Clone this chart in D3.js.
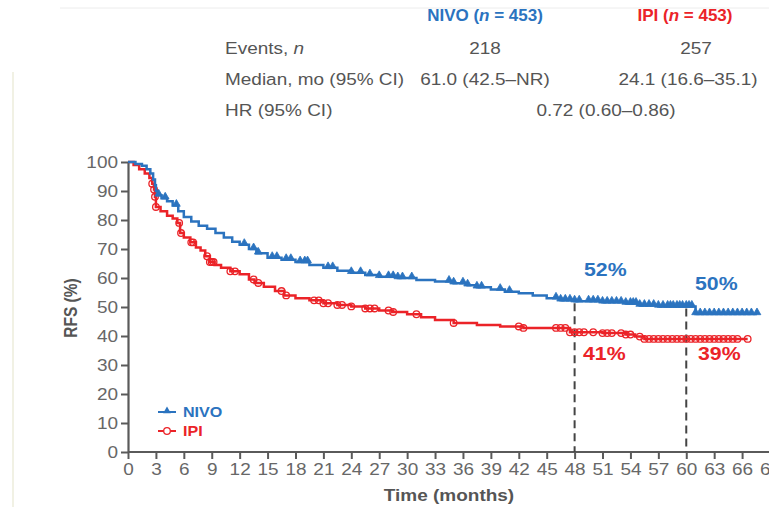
<!DOCTYPE html>
<html lang="en">
<head>
<meta charset="utf-8">
<title>RFS NIVO vs IPI</title>
<script src="https://d3js.org/d3.v7.min.js"></script>
<style>
  body { margin: 0; background: #fff; }
  svg text { font-family: "Liberation Sans", Arial, sans-serif; }
</style>
</head>
<body>
<div id="chart"></div>
<script>
// ---- data ----
var nivoTime = [0, 0.8, 1.5, 2.0, 2.4, 2.7, 2.9, 3.0, 3.2, 3.6, 4.2, 4.8, 5.4, 6.0, 6.8, 7.6, 8.5, 9.4, 10.3, 11.2, 12.0, 13.0, 13.8, 15.0, 16.5, 18.0, 19.5, 21.0, 22.5, 24.0, 25.5, 27.0, 29.0, 31.0, 33.0, 35.0, 36.5, 37.5, 39.0, 40.5, 42.0, 43.5, 45.0, 46.5, 48.0, 51.0, 53.5, 55.0, 57.0, 61.0, 67.6];
var nivoSurv = [100, 99.3, 98.7, 97.5, 96, 94, 92, 90, 88.5, 87.5, 86.5, 85, 83, 81, 79.5, 78, 77, 75.5, 74, 72.5, 71.5, 70, 68.5, 67, 66.3, 65.5, 64.5, 63.5, 62.5, 61.8, 61, 60.4, 60, 59.3, 58.8, 58.2, 57.5, 56.8, 56, 55.3, 54.7, 54, 53, 52.3, 52, 51.6, 51.2, 50.5, 50.2, 47.6, 47.6];

var ipiTime = [0, 0.6, 1.2, 1.8, 2.3, 2.6, 2.8, 2.9, 3.0, 3.5, 4.2, 4.8, 5.3, 5.6, 6.0, 6.7, 7.3, 7.8, 8.3, 8.8, 9.3, 10.0, 11.0, 12.0, 13.0, 13.6, 14.6, 15.8, 16.8, 18.0, 19.5, 21.0, 22.5, 24.0, 25.5, 27.0, 28.5, 30.0, 31.5, 33.0, 35.0, 37.5, 40.0, 42.5, 47.5, 51.0, 53.5, 54.5, 55.5, 66.6];
var ipiSurv = [100, 99, 97.5, 96, 94.5, 92.5, 90.5, 88, 84.5, 83, 81.5, 80.5, 79, 75.5, 74, 72.3, 70.5, 69.5, 67.5, 65.5, 64.5, 63.5, 62.3, 61.3, 59.5, 58.3, 57, 55.5, 54, 53, 52.3, 51.3, 50.7, 50.2, 49.5, 48.8, 48.3, 47.5, 46.5, 45.5, 44.5, 43.8, 43.3, 42.8, 41.3, 41, 40.5, 39.8, 39, 39];

var nivoCensor = [3.3, 4, 5.2, 12.5, 13.5, 14, 15.5, 16, 17, 17.5, 18.5, 19, 19.3, 21.5, 22, 24, 25, 26, 27, 28, 28.5, 29, 29.5, 30.5, 34.5, 35, 36, 36.5, 37.5, 38, 40, 41, 46, 46.5, 47, 47.5, 48, 48.5, 49.5, 50, 50.5, 51, 51.5, 52, 52.5, 53, 53.5, 54, 54.3, 54.6, 55, 55.5, 56, 56.5, 57, 57.5, 58, 58.3, 58.6, 59, 59.3, 59.6, 60, 60.3, 60.6, 61, 61.5, 62, 62.5, 63, 63.5, 64, 64.5, 65, 65.5, 66, 66.5, 67, 67.6];
var ipiCensor = [2.6, 2.8, 2.9, 3.0, 5.5, 5.7, 6.8, 7, 8.5, 8.8, 9, 9.2, 11, 11.5, 13.5, 14, 16.5, 17, 20, 20.5, 21, 21.5, 22.5, 23, 24, 25.5, 26, 26.5, 28, 28.5, 31, 35, 42, 42.5, 46, 46.5, 47, 47.5, 48, 48.5, 49, 50, 51, 51.5, 52, 53, 53.5, 54, 55, 55.5, 56, 56.5, 57, 57.5, 58, 58.5, 59, 59.5, 60, 60.5, 61, 61.5, 62, 62.5, 63, 63.5, 64, 64.5, 65, 65.5, 66.6];

var landmarkTimes = [48, 60];
var nivoLandmark = ["52%", "50%"];
var ipiLandmark = ["41%", "39%"];

var rowLabels = ["Events, n", "Median, mo (95% CI)", "HR (95% CI)"];
var nivoCol = ["218", "61.0 (42.5–NR)"];
var ipiCol = ["257", "24.1 (16.6–35.1)"];
var hrText = "0.72 (0.60–0.86)";

var xTicks = d3.range(0, 70, 3);
var yTicks = d3.range(0, 101, 10);

// ---- layout ----
var w = 769, h = 507;
var SX = 1.15;   // source picture is a bit stretched sideways
var blue = "#2b73bf", red = "#eb2328", grey = "#5a5a5a", txt = "#555";

var svg = d3.select("#chart").append("svg")
  .attr("width", w).attr("height", h);

// stretched text helper
function stext(px, py, str, size, color, anchor, weight) {
  return svg.append("text")
    .attr("transform", "translate(" + px + "," + py + ") scale(" + SX + ",1)")
    .attr("text-anchor", anchor || "start")
    .attr("font-size", size).attr("font-weight", weight || "normal")
    .attr("fill", color).text(str);
}

// faint scan edges
svg.append("line").attr("x1", 60).attr("x2", w).attr("y1", 8).attr("y2", 8)
  .attr("stroke", "#ececec").attr("stroke-width", 1);
svg.append("line").attr("x1", 13).attr("x2", 13).attr("y1", 72).attr("y2", h)
  .attr("stroke", "#f1f1e4").attr("stroke-width", 2);

// ---- table ----
var hdr = svg.append("text").attr("y", 21).attr("font-size", 17).attr("font-weight", "bold")
  .attr("fill", blue).attr("x", 485).attr("text-anchor", "middle");
hdr.append("tspan").text("NIVO (");
hdr.append("tspan").attr("font-style", "italic").text("n");
hdr.append("tspan").text(" = 453)");
var hdr2 = svg.append("text").attr("y", 21).attr("font-size", 17).attr("font-weight", "bold")
  .attr("fill", red).attr("x", 685).attr("text-anchor", "middle");
hdr2.append("tspan").text("IPI (");
hdr2.append("tspan").attr("font-style", "italic").text("n");
hdr2.append("tspan").text(" = 453)");

var rowY = [54, 85, 116];
var fs = 16.5;
rowLabels.forEach(function(lab, i) {
  var t = stext(225, rowY[i], i == 0 ? null : lab, fs, txt);
  if (i == 0) {
    t.append("tspan").text("Events, ");
    t.append("tspan").attr("font-style", "italic").text("n");
  }
});
var nivoX = [485, 485], ipiX = [696, 688];
nivoCol.forEach(function(v, i) { stext(nivoX[i], rowY[i], v, fs, txt, "middle"); });
ipiCol.forEach(function(v, i) { stext(ipiX[i], rowY[i], v, fs, txt, "middle"); });
stext(606, rowY[2], hrText, fs, txt, "middle");

// ---- plot ----
var x = d3.scaleLinear().domain([0, 69]).range([128, 770]);
var y = d3.scaleLinear().domain([0, 100]).range([452, 162]);

var xAxis = svg.append("g").attr("transform", "translate(0,452)")
  .call(d3.axisBottom(x).tickValues(xTicks).tickSize(7).tickSizeOuter(0).tickPadding(4));
var yAxis = svg.append("g").attr("transform", "translate(128,0)")
  .call(d3.axisLeft(y).tickValues(yTicks).tickSize(7).tickSizeOuter(0).tickPadding(1.7));

[xAxis, yAxis].forEach(function(a) {
  a.select(".domain").attr("stroke", grey).attr("stroke-width", 2.2);
  a.selectAll(".tick line").attr("stroke", grey).attr("stroke-width", 2);
  a.selectAll(".tick text").attr("fill", "#676767").attr("font-size", 16.5)
    .attr("font-family", "'Liberation Sans', Arial, sans-serif")
    .attr("transform", "scale(" + SX + ",1)");
});
xAxis.select(".domain").attr("d", "M128,0H" + w);

svg.append("text").attr("transform", "translate(77,308) rotate(-90) scale(1," + SX + ")")
  .attr("text-anchor", "middle").attr("font-size", 15.5).attr("font-weight", "bold")
  .attr("fill", txt).text("RFS (%)");
stext(449, 501, "Time (months)", 16.5, txt, "middle", "bold");

// KM step function lookup
function survAt(times, surv, t) {
  var i = d3.bisectRight(times, t) - 1;
  return surv[Math.max(0, i)];
}

// dashed landmark lines
landmarkTimes.forEach(function(t) {
  svg.append("line").attr("x1", x(t)).attr("x2", x(t))
    .attr("y1", y(survAt(nivoTime, nivoSurv, t)) + 2).attr("y2", 452)
    .attr("stroke", "#444").attr("stroke-width", 2).attr("stroke-dasharray", "8,5");
});

var line = d3.line().x(function(d) { return x(d[0]); }).y(function(d) { return y(d[1]); })
  .curve(d3.curveStepAfter);

var series = [
  { t: ipiTime, s: ipiSurv, c: ipiCensor, color: red, mark: "circle" },
  { t: nivoTime, s: nivoSurv, c: nivoCensor, color: blue, mark: "tri" }
];

series.forEach(function(sr) {
  svg.append("path").datum(d3.zip(sr.t, sr.s))
    .attr("d", line).attr("fill", "none").attr("stroke", sr.color).attr("stroke-width", 2.5);
  var g = svg.append("g");
  sr.c.forEach(function(ct) {
    var cx = x(ct), cy = y(survAt(sr.t, sr.s, ct));
    if (sr.mark == "circle") {
      g.append("circle").attr("cx", cx).attr("cy", cy).attr("r", 3.3)
        .attr("fill", "none").attr("stroke", sr.color).attr("stroke-width", 1.3);
    } else {
      g.append("path").attr("d", d3.symbol().type(d3.symbolTriangle).size(26)())
        .attr("transform", "translate(" + cx + "," + (cy - 1.5) + ")")
        .attr("fill", sr.color).attr("stroke", sr.color).attr("stroke-width", 0.8);
    }
  });
});

// landmark labels
var nivoLblPos = [[584, 276], [695, 290]];
var ipiLblPos = [[583, 360], [698, 360]];
landmarkTimes.forEach(function(t, i) {
  stext(nivoLblPos[i][0], nivoLblPos[i][1], nivoLandmark[i], 18.5, blue, "start", "bold");
  stext(ipiLblPos[i][0], ipiLblPos[i][1], ipiLandmark[i], 18.5, red, "start", "bold");
});

// legend
var legend = [
  { name: "NIVO", color: blue, mark: "tri", y: 412 },
  { name: "IPI", color: red, mark: "circle", y: 431 }
];
legend.forEach(function(l) {
  svg.append("line").attr("x1", 158).attr("x2", 176).attr("y1", l.y).attr("y2", l.y)
    .attr("stroke", l.color).attr("stroke-width", 2);
  if (l.mark == "tri") {
    svg.append("path").attr("d", d3.symbol().type(d3.symbolTriangle).size(26)())
      .attr("transform", "translate(167," + (l.y - 1) + ")").attr("fill", l.color);
  } else {
    svg.append("circle").attr("cx", 167).attr("cy", l.y).attr("r", 3.3)
      .attr("fill", "#fff").attr("stroke", l.color).attr("stroke-width", 1.3);
  }
  stext(183, l.y + 5, l.name, 14, l.color, "start", "bold");
});
</script>
</body>
</html>
